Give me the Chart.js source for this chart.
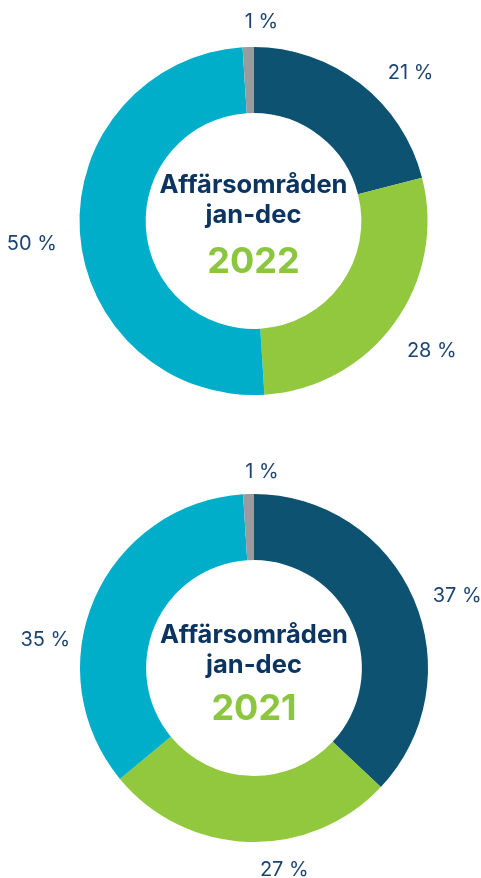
<!DOCTYPE html>
<html>
<head>
<meta charset="utf-8">
<script src="https://cdn.jsdelivr.net/npm/chart.js@4.4.1/dist/chart.umd.min.js"></script>
<style>
  html, body { margin: 0; padding: 0; background: #fff; overflow: hidden; }
  .wrap { position: relative; width: 481px; }
  #w2022 { height: 442px; }
  #w2021 { height: 436px; }
</style>
</head>
<body>
<div class="wrap" id="w2022"><canvas id="c2022"></canvas></div>
<div class="wrap" id="w2021"><canvas id="c2021"></canvas></div>
<script>
// Affärsområden, andel i procent (medurs från kl. 12)
const omraden = ['Område A', 'Område B', 'Område C', 'Övrigt'];
const andel2022 = [21, 28, 50, 1];
const andel2021 = [37, 27, 35, 1];
const rubrik = ['Affärsområden', 'jan-dec'];

const farger = ['#0d5270', '#92c83e', '#00aec9', '#9a9b9f'];
const navy = '#0b3461';
const labelColor = '#1c4470';

// text i mitten av ringen
const mittText = {
    id: 'mittText',
    afterDraw(chart, args, opts) {
        const arc = chart.getDatasetMeta(0).data[0];
        if (!arc) return;
        const { ctx } = chart;
        ctx.save();
        ctx.textAlign = 'center';
        ctx.textBaseline = 'alphabetic';
        ctx.fillStyle = navy;
        ctx.font = 'bold 25.5px Inter';
        ctx.fillText(rubrik[0], arc.x, arc.y + opts.rad[0]);
        ctx.fillText(rubrik[1], arc.x, arc.y + opts.rad[1]);
        ctx.fillStyle = '#8cc63f';
        ctx.font = 'bold 36px Inter';
        ctx.fillText(opts.ar, arc.x, arc.y + opts.rad[2]);
        ctx.restore();
    }
};

// procentetiketter utanför ringen
const yttreEtiketter = {
    id: 'yttreEtiketter',
    afterDraw(chart, args, opts) {
        const meta = chart.getDatasetMeta(0);
        const values = chart.data.datasets[0].data;
        const { ctx } = chart;
        ctx.save();
        ctx.font = '20px Inter';
        ctx.fillStyle = labelColor;
        ctx.textAlign = 'center';
        ctx.textBaseline = 'middle';
        meta.data.forEach((arc, i) => {
            const mid = (arc.startAngle + arc.endAngle) / 2 + (opts.vinkel[i] || 0) * Math.PI / 180;
            const dx = Math.cos(mid), dy = Math.sin(mid);
            const txt = values[i] + ' %';
            const w = ctx.measureText(txt).width;
            const h = 16;
            const r = arc.outerRadius + opts.gap + (opts.extra[i] || 0);
            ctx.fillText(txt, arc.x + dx * r + dx * w / 2, arc.y + dy * r + dy * h / 2);
        });
        ctx.restore();
    }
};

function ritaRing(id, values, ar, padding, vinkel, extra, rad) {
    new Chart(document.getElementById(id), {
        type: 'doughnut',
        data: {
            labels: omraden,
            datasets: [{
                data: values,
                backgroundColor: farger,
                borderWidth: 0
            }]
        },
        options: {
            responsive: true,
            maintainAspectRatio: false,
            animation: false,
            cutout: '62%',
            layout: { padding: padding },
            plugins: {
                legend: { display: false },
                tooltip: { enabled: false },
                mittText: { ar: ar, rad: rad },
                yttreEtiketter: { gap: 20, vinkel: vinkel, extra: extra }
            }
        },
        plugins: [mittText, yttreEtiketter]
    });
}

ritaRing('c2022', andel2022, '2022',
    { top: 47, bottom: 47, left: 66, right: 40 },
    [7, 2.2, -2.8, 4], [6, 8, 4, -3], [-28, 2, 52]);
ritaRing('c2021', andel2021, '2021',
    { top: 52, bottom: 36, left: 67, right: 40 },
    [2.5, -9.7, -15, 4], [-1, 2, -8, -6], [-25, 5, 52]);
</script>
</body>
</html>
